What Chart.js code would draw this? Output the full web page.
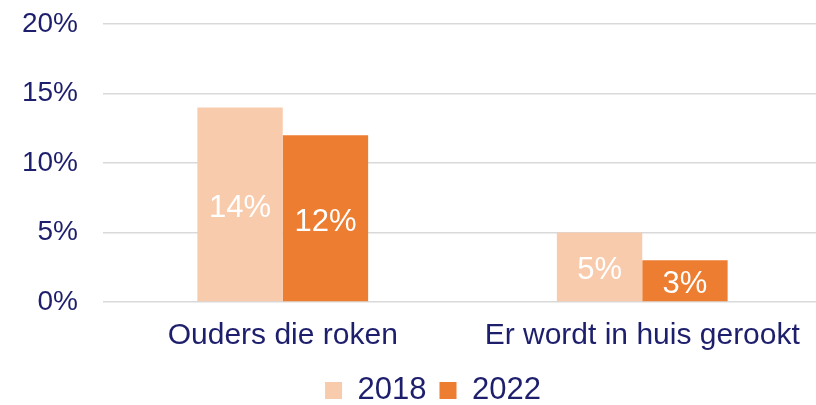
<!doctype html>
<html>

<head>
  <title>Roken ouders</title>
  <script src="https://cdn.jsdelivr.net/npm/chart.js@4.4.1/dist/chart.umd.min.js"></script>
  <style>
    html, body {
      margin: 0;
      padding: 0;
      overflow: hidden;
      background: #fff;
    }
    .chart {
      width: 864px;
      height: 405px;
    }
  </style>
</head>

<body>
  <div class="chart">
    <canvas id="myChart"></canvas>
  </div>

  <script>
    var categories = ['Ouders die roken', 'Er wordt in huis gerookt'];
    var years = ['2018', '2022'];
    var values2018 = [14, 5];
    var values2022 = [12, 3];
    var yTicks = [0, 5, 10, 15, 20];

    var navy = '#1e1f6c';
    var font = '"Liberation Sans", Arial, Helvetica, sans-serif';

    // white value labels in the middle of each bar
    var barLabels = {
      id: 'barLabels',
      afterLayout: function(chart) {
        // legend sits a bit right of the plot centre in the original
        chart.legend.left += 12;
        chart.legend.right += 12;
      },
      afterDatasetsDraw: function(chart) {
        var ctx = chart.ctx;
        ctx.save();
        ctx.fillStyle = '#fff';
        ctx.font = '31px ' + font;
        ctx.textAlign = 'center';
        ctx.textBaseline = 'middle';
        chart.data.datasets.forEach(function(ds, i) {
          chart.getDatasetMeta(i).data.forEach(function(bar, j) {
            var y = (bar.y + bar.base) / 2 + 4;
            ctx.fillText(ds.data[j] + '%', bar.x, y);
          });
        });
        ctx.restore();
      }
    };

    var config = {
      type: 'bar',
      data: {
        labels: categories,
        datasets: [{
          label: years[0],
          data: values2018,
          backgroundColor: '#f8cbad'
        }, {
          label: years[1],
          data: values2022,
          backgroundColor: '#ed7d31'
        }]
      },
      options: {
        responsive: true,
        maintainAspectRatio: false,
        animation: false,
        datasets: {
          bar: {
            categoryPercentage: 0.475,
            barPercentage: 1
          }
        },
        layout: {
          padding: {left: 20, right: 42, top: 0, bottom: -11}
        },
        scales: {
          x: {
            grid: {display: false},
            border: {display: false},
            ticks: {
              color: navy,
              font: {family: font, size: 30},
              padding: 8,
              maxRotation: 0
            }
          },
          y: {
            min: 0,
            max: 20,
            afterBuildTicks: function(axis) {
              axis.ticks = yTicks.map(function(v) { return {value: v}; });
            },
            afterFit: function(axis) {
              axis.width = 83;
              axis.paddingTop = 24;
              axis.paddingBottom = 0;
            },
            grid: {color: '#d9d9d9', lineWidth: 1.5, drawTicks: false},
            border: {display: false},
            ticks: {
              color: navy,
              font: {family: font, size: 28},
              padding: 25,
              callback: function(v) { return v + '%'; }
            }
          }
        },
        plugins: {
          legend: {
            position: 'bottom',
            labels: {
              color: navy,
              font: {family: font, size: 31},
              boxWidth: 17,
              boxHeight: 17,
              padding: 13
            }
          },
          tooltip: {enabled: false}
        }
      },
      plugins: [barLabels]
    };

    window.onload = function() {
      var ctx = document.getElementById('myChart').getContext('2d');
      window.myChart = new Chart(ctx, config);
    };
  </script>
</body>

</html>
